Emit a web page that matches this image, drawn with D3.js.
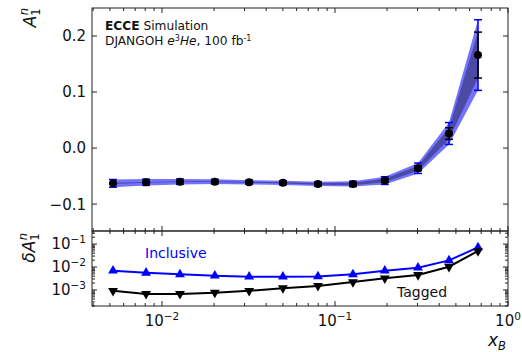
<!DOCTYPE html>
<html><head><meta charset="utf-8">
<script src="https://cdn.jsdelivr.net/npm/d3@7"></script>
<style>body{margin:0;background:#fff;} svg{display:block;font-family:"DejaVu Sans",sans-serif;}</style>
</head><body>
<svg id="c" width="522" height="352"></svg>
<script>
// ---- data ----
const xB = [0.00521, 0.00809, 0.0127, 0.0202, 0.0319, 0.0500, 0.0797, 0.127, 0.194, 0.302, 0.456, 0.671];
const A1n = [-0.063, -0.061, -0.060, -0.060, -0.061, -0.062, -0.064, -0.064, -0.058, -0.036, 0.026, 0.166];
const dA_inclusive = [0.0069, 0.0056, 0.0048, 0.0042, 0.0038, 0.0038, 0.0039, 0.0048, 0.0069, 0.0093, 0.0195, 0.063];
const dA_tagged = [0.00092, 0.00067, 0.00067, 0.00076, 0.00092, 0.0012, 0.0015, 0.0022, 0.0032, 0.0045, 0.0103, 0.041];
const dA_inclusive_low = [0.0069, 0.0056, 0.0048, 0.0042, 0.0038, 0.0038, 0.0039, 0.0048, 0.0069, 0.0093, 0.0195, 0.072];
const dA_tagged_low = [0.00092, 0.00067, 0.00067, 0.00076, 0.00092, 0.0012, 0.0015, 0.0022, 0.0032, 0.0045, 0.0103, 0.050];
const yTopTicks = [-0.1, 0.0, 0.1, 0.2];
const yTopLabels = ["\u22120.1", "0.0", "0.1", "0.2"];
const yLowTicks = [1e-3, 1e-2, 1e-1];
const yLowExp = ["\u22123", "\u22122", "\u22121"];
const xTicks = [0.01, 0.1, 1];
const xExp = ["\u22122", "\u22121", "0"];

const svg = d3.select("#c");
const L = 92, R = 508, T = 8, M = 231, B = 306;
const x = d3.scaleLog().domain([Math.pow(10, -2.4046), 1]).range([L, R]);
const yT = d3.scaleLinear().domain([-0.148, 0.25]).range([M, T]);
const yL = d3.scaleLog().domain([Math.pow(10, -3.7), Math.pow(10, -0.43)]).range([B, M]);

const xMinor = [];
for (let e = -3; e <= 0; e++) for (let k = 1; k < 10; k++) { const v = k * Math.pow(10, e); if (v >= x.domain()[0] && v <= 1) xMinor.push(v); }
const yMinor = [];
for (let e = -4; e <= 0; e++) for (let k = 1; k < 10; k++) { const v = k * Math.pow(10, e); if (v >= yL.domain()[0] && v <= yL.domain()[1]) yMinor.push(v); }

const g = svg.append("g");
const area = (err) => d3.area().x((d, i) => x(xB[i])).y0((d, i) => yT(A1n[i] - err[i])).y1((d, i) => yT(A1n[i] + err[i]));
g.append("path").datum(A1n).attr("d", area(dA_inclusive)).attr("fill", "#0000ff").attr("fill-opacity", 0.55);
g.append("path").datum(A1n).attr("d", area(dA_tagged)).attr("fill", "#000").attr("fill-opacity", 0.35);
function ebars(err, color, w) {
  const eg = g.append("g").attr("stroke", color).attr("stroke-width", w).attr("fill", "none");
  A1n.forEach((v, i) => {
    const cx = x(xB[i]);
    eg.append("line").attr("x1", cx).attr("x2", cx).attr("y1", yT(v - err[i])).attr("y2", yT(v + err[i]));
    [v - err[i], v + err[i]].forEach(e => eg.append("line").attr("x1", cx - 4).attr("x2", cx + 4).attr("y1", yT(e)).attr("y2", yT(e)));
  });
}
ebars(dA_inclusive, "#0000ff", 1.5);
ebars(dA_tagged, "#000", 1.5);
g.selectAll("circle.pt").data(A1n).join("circle").attr("cx", (d, i) => x(xB[i])).attr("cy", d => yT(d)).attr("r", 4).attr("fill", "#000");

const ln = () => d3.line().x((d, i) => x(xB[i])).y(d => yL(d));
g.append("path").datum(dA_inclusive_low).attr("d", ln()).attr("stroke", "#0000ff").attr("stroke-width", 2).attr("fill", "none");
g.append("path").datum(dA_tagged_low).attr("d", ln()).attr("stroke", "#000").attr("stroke-width", 2).attr("fill", "none");
const tri = d3.symbol().type(d3.symbolTriangle).size(42);
g.selectAll("path.up").data(dA_inclusive_low).join("path").attr("d", tri).attr("fill", "#0000ff")
  .attr("transform", (d, i) => `translate(${x(xB[i])},${yL(d)})`);
g.selectAll("path.dn").data(dA_tagged_low).join("path").attr("d", tri).attr("fill", "#000")
  .attr("transform", (d, i) => `translate(${x(xB[i])},${yL(d)}) rotate(180)`);

const ax = svg.append("g").attr("stroke", "#222").attr("stroke-width", 1);
ax.append("rect").attr("x", L).attr("y", T).attr("width", R - L).attr("height", M - T).attr("fill", "none");
ax.append("rect").attr("x", L).attr("y", M).attr("width", R - L).attr("height", B - M).attr("fill", "none");
function xt(y, dir) {
  xMinor.forEach(v => { const major = Math.abs(Math.log10(v) - Math.round(Math.log10(v))) < 1e-6; const len = major ? 5 : 3;
    ax.append("line").attr("x1", x(v)).attr("x2", x(v)).attr("y1", y).attr("y2", y + dir * len); });
}
xt(T, 1); xt(M, -1); xt(M, 1); xt(B, -1);
yTopTicks.forEach(v => { ax.append("line").attr("x1", L).attr("x2", L + 5).attr("y1", yT(v)).attr("y2", yT(v));
  ax.append("line").attr("x1", R).attr("x2", R - 5).attr("y1", yT(v)).attr("y2", yT(v)); });
yMinor.forEach(v => { const major = Math.abs(Math.log10(v) - Math.round(Math.log10(v))) < 1e-6; const len = major ? 5 : 3;
  ax.append("line").attr("x1", L).attr("x2", L + len).attr("y1", yL(v)).attr("y2", yL(v));
  ax.append("line").attr("x1", R).attr("x2", R - len).attr("y1", yL(v)).attr("y2", yL(v)); });

const txt = svg.append("g").attr("fill", "#111");
yTopTicks.forEach((v, i) => txt.append("text").attr("x", L - 6).attr("y", yT(v)).attr("dy", "0.36em").attr("text-anchor", "end").attr("font-size", 15).text(yTopLabels[i]));
function pow10(sel, e) { sel.append("tspan").text("10"); sel.append("tspan").attr("dy", -6).attr("font-size", 10.5).text(e); }
yLowTicks.forEach((v, i) => { const t = txt.append("text").attr("x", L - 6).attr("y", yL(v) + 5).attr("text-anchor", "end").attr("font-size", 15); pow10(t, yLowExp[i]); });
xTicks.forEach((v, i) => { const t = txt.append("text").attr("x", x(v)).attr("y", B + 20).attr("text-anchor", "middle").attr("font-size", 15); pow10(t, xExp[i]); });

const yl1 = txt.append("text").attr("transform", `translate(36,${T}) rotate(-90)`).attr("text-anchor", "end").attr("font-size", 17);
yl1.append("tspan").attr("font-style", "italic").text("A");
yl1.append("tspan").attr("font-size", 11.5).attr("dy", 4).text("1");
yl1.append("tspan").attr("font-size", 11.5).attr("font-style", "italic").attr("dx", -7).attr("dy", -12).text("n");
const yl2 = txt.append("text").attr("transform", `translate(35,${M + 2}) rotate(-90)`).attr("text-anchor", "end").attr("font-size", 17);
yl2.append("tspan").attr("font-style", "italic").text("\u03b4A");
yl2.append("tspan").attr("font-size", 11.5).attr("dy", 4).text("1");
yl2.append("tspan").attr("font-size", 11.5).attr("font-style", "italic").attr("dx", -7).attr("dy", -12).text("n");
const xl = txt.append("text").attr("x", R - 2).attr("y", B + 40).attr("text-anchor", "end").attr("font-size", 17);
xl.append("tspan").attr("font-style", "italic").text("x");
xl.append("tspan").attr("font-style", "italic").attr("font-size", 11.5).attr("dy", 4).text("B");

const a1 = txt.append("text").attr("x", 105).attr("y", 29.5).attr("font-size", 12.2);
a1.append("tspan").attr("font-weight", "bold").text("ECCE");
a1.append("tspan").text(" Simulation");
const a2 = txt.append("text").attr("x", 105).attr("y", 45).attr("font-size", 12.2);
a2.append("tspan").text("DJANGOH ");
a2.append("tspan").attr("font-style", "italic").text("e");
a2.append("tspan").attr("font-size", 8).attr("dy", -4).text("3");
a2.append("tspan").attr("font-style", "italic").attr("dy", 4).text("He");
a2.append("tspan").text(", 100 fb");
a2.append("tspan").attr("font-size", 8).attr("dy", -4).text("-1");
txt.append("text").attr("x", 145).attr("y", 258).attr("font-size", 14).attr("fill", "#0000ff").text("Inclusive");
txt.append("text").attr("x", 397).attr("y", 297).attr("font-size", 14).text("Tagged");
</script>
</body></html>
